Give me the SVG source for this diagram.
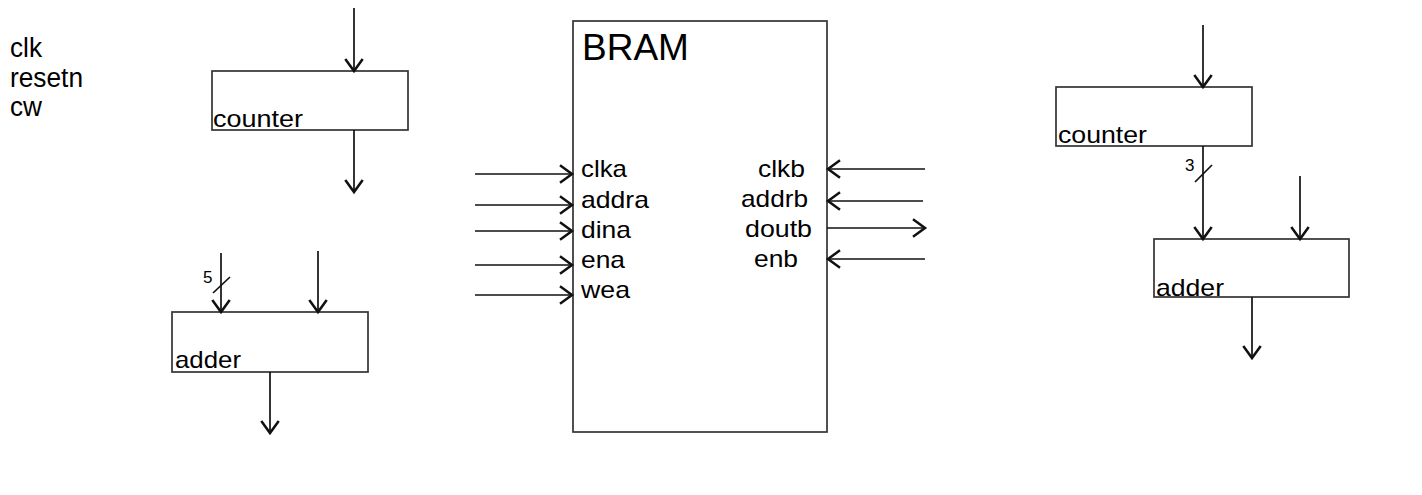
<svg xmlns="http://www.w3.org/2000/svg" width="1422" height="495" viewBox="0 0 1422 495">
<defs>
<style>
.box{fill:#fff;stroke:#333;stroke-width:1.7}
.w{fill:none;stroke:#111;stroke-width:1.7}
.t{font-family:"Liberation Sans",Arial,sans-serif;fill:#000}
.p{font-size:24px}
.s{font-size:17px}
</style>
<marker id="ah" markerUnits="userSpaceOnUse" markerWidth="24" markerHeight="24" viewBox="-13 -11 15 22" refX="0" refY="0" orient="auto">
<path d="M-11,-8 L0,0 L-11,8" fill="none" stroke="#111" stroke-width="2.3"/>
</marker>
</defs>
<rect width="1422" height="495" fill="#fff"/>
<g id="signals">
<text class="t" x="10" y="57" font-size="27" textLength="32" lengthAdjust="spacingAndGlyphs">clk</text>
<text class="t" x="10" y="86.5" font-size="27" textLength="73" lengthAdjust="spacingAndGlyphs">resetn</text>
<text class="t" x="10" y="115.5" font-size="27" textLength="32" lengthAdjust="spacingAndGlyphs">cw</text>
</g>
<g id="counter-left">
<rect class="box" x="212" y="71" width="196" height="59"/>
<text class="t p" x="213" y="127" textLength="90" lengthAdjust="spacingAndGlyphs">counter</text>
</g>
<g id="adder-left">
<rect class="box" x="172" y="312" width="196" height="60"/>
<text class="t p" x="175" y="368" textLength="66" lengthAdjust="spacingAndGlyphs">adder</text>
</g>
<g id="bram">
<rect class="box" x="573" y="21" width="254" height="411"/>
<text class="t" x="582" y="60" font-size="37">BRAM</text>
<text class="t p" x="581" y="177" textLength="46" lengthAdjust="spacingAndGlyphs">clka</text>
<text class="t p" x="581" y="207.5" textLength="68" lengthAdjust="spacingAndGlyphs">addra</text>
<text class="t p" x="581" y="237.5" textLength="50" lengthAdjust="spacingAndGlyphs">dina</text>
<text class="t p" x="581" y="268" textLength="44" lengthAdjust="spacingAndGlyphs">ena</text>
<text class="t p" x="581" y="298" textLength="49" lengthAdjust="spacingAndGlyphs">wea</text>
<text class="t p" x="758" y="177" textLength="47" lengthAdjust="spacingAndGlyphs">clkb</text>
<text class="t p" x="741" y="207" textLength="67" lengthAdjust="spacingAndGlyphs">addrb</text>
<text class="t p" x="745" y="237" textLength="67" lengthAdjust="spacingAndGlyphs">doutb</text>
<text class="t p" x="754" y="267" textLength="44" lengthAdjust="spacingAndGlyphs">enb</text>
</g>
<g id="counter-right">
<rect class="box" x="1056" y="87" width="196" height="59"/>
<text class="t p" x="1058" y="143" textLength="89" lengthAdjust="spacingAndGlyphs">counter</text>
</g>
<g id="adder-right">
<rect class="box" x="1154" y="239" width="195" height="58"/>
<text class="t p" x="1156" y="295.5" textLength="68" lengthAdjust="spacingAndGlyphs">adder</text>
</g>
<g id="connectors">
<line class="w" x1="354" y1="8" x2="354" y2="71" marker-end="url(#ah)"/>
<line class="w" x1="354" y1="130" x2="354" y2="192" marker-end="url(#ah)"/>
<line class="w" x1="221" y1="253" x2="221" y2="312" marker-end="url(#ah)"/>
<line class="w" x1="213" y1="293" x2="230" y2="277"/>
<text class="t s" x="203" y="283">5</text>
<line class="w" x1="318" y1="251" x2="318" y2="312" marker-end="url(#ah)"/>
<line class="w" x1="270" y1="372" x2="270" y2="433" marker-end="url(#ah)"/>
<line class="w" x1="475" y1="174" x2="572" y2="174" marker-end="url(#ah)"/>
<line class="w" x1="475" y1="205" x2="572" y2="205" marker-end="url(#ah)"/>
<line class="w" x1="475" y1="231" x2="572" y2="231" marker-end="url(#ah)"/>
<line class="w" x1="475" y1="265" x2="572" y2="265" marker-end="url(#ah)"/>
<line class="w" x1="475" y1="295" x2="572" y2="295" marker-end="url(#ah)"/>
<line class="w" x1="925" y1="169" x2="828" y2="169" marker-end="url(#ah)"/>
<line class="w" x1="923" y1="201" x2="828" y2="201" marker-end="url(#ah)"/>
<line class="w" x1="827" y1="228" x2="925" y2="228" marker-end="url(#ah)"/>
<line class="w" x1="925" y1="259" x2="828" y2="259" marker-end="url(#ah)"/>
<line class="w" x1="1203" y1="25" x2="1203" y2="87" marker-end="url(#ah)"/>
<line class="w" x1="1203" y1="146" x2="1203" y2="239" marker-end="url(#ah)"/>
<line class="w" x1="1195" y1="182" x2="1212" y2="165"/>
<text class="t s" x="1185" y="171">3</text>
<line class="w" x1="1300" y1="176" x2="1300" y2="239" marker-end="url(#ah)"/>
<line class="w" x1="1252" y1="297" x2="1252" y2="358" marker-end="url(#ah)"/>
</g>
</svg>
